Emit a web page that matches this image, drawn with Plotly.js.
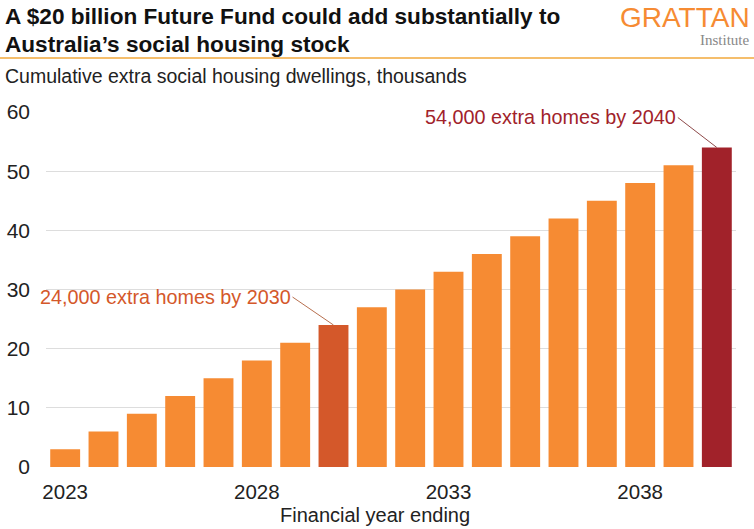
<!DOCTYPE html>
<html>
<head>
<meta charset="utf-8">
<script src="https://cdn.plot.ly/plotly-3.0.1.min.js"></script>
<style>html,body{margin:0;padding:0;background:#fff;}#chart{width:754px;height:529px;}</style>
</head>
<body>
<div id="chart"></div>
<script>
const years = [2023,2024,2025,2026,2027,2028,2029,2030,2031,2032,2033,2034,2035,2036,2037,2038,2039,2040];
const dwellings = [3,6,9,12,15,18,21,24,27,30,33,36,39,42,45,48,51,54];
const yTicks = [0,10,20,30,40,50,60];
const xTicks = [2023,2028,2033,2038];
const highlight2030 = 2030;
const highlight2040 = 2040;

const ORANGE = '#F68B33', DARKORANGE = '#D4582A', RED = '#A1222A';
const colors = years.map(y => y === highlight2030 ? DARKORANGE : (y === highlight2040 ? RED : ORANGE));

const L = 46, R = 18, T = 112, B = 62, W = 754, H = 529;
const pw = W - L - R, ph = H - T - B;
const px = x => (x - L) / pw;
const py = y => (H - B - y) / ph;
const FONT = 'Liberation Sans, Arial, sans-serif';

const trace = {
  type: 'bar', x: years, y: dwellings,
  marker: {color: colors, line: {width: 0}},
  hoverinfo: 'skip'
};

const layout = {
  width: W, height: H,
  margin: {l: L, r: R, t: T, b: B, pad: 0},
  paper_bgcolor: '#fff', plot_bgcolor: '#fff',
  font: {family: FONT, color: '#222', size: 20},
  bargap: 0.22,
  showlegend: false,
  xaxis: {
    range: [years[0] - 0.5, years[years.length - 1] + 0.5],
    tickvals: xTicks, ticktext: xTicks.map(String),
    showgrid: false, zeroline: false, showline: false, ticks: '',
    ticklabelstandoff: 10,
    tickfont: {size: 20.5, color: '#222'}
  },
  yaxis: {
    range: [0, 60],
    tickvals: yTicks,
    showgrid: true, gridcolor: '#DDDDDD', gridwidth: 1,
    zeroline: false, showline: false, ticks: '',
    ticklabelstandoff: 15,
    tickfont: {size: 21, color: '#222'}
  },
  shapes: [
    {type: 'line', xref: 'paper', yref: 'paper', x0: px(0), x1: px(754), y0: py(58), y1: py(58),
     line: {color: '#F2A93B', width: 1.5}}
  ],
  annotations: [
    {xref: 'paper', yref: 'paper', x: px(3), y: py(17), xanchor: 'left', yanchor: 'middle', align: 'left',
     showarrow: false, text: '<b>A $20 billion Future Fund could add substantially to</b>',
     font: {family: FONT, size: 22.6, color: '#111'}},
    {xref: 'paper', yref: 'paper', x: px(3), y: py(44), xanchor: 'left', yanchor: 'middle', align: 'left',
     showarrow: false, text: '<b>Australia’s social housing stock</b>',
     font: {family: FONT, size: 22.6, color: '#111'}},
    {xref: 'paper', yref: 'paper', x: px(3), y: py(76), xanchor: 'left', yanchor: 'middle',
     showarrow: false, text: 'Cumulative extra social housing dwellings, thousands',
     font: {family: FONT, size: 19.5, color: '#222'}},
    {xref: 'paper', yref: 'paper', x: px(752), y: py(18), xanchor: 'right', yanchor: 'middle',
     showarrow: false, text: 'GRATTAN',
     font: {family: FONT, size: 28, color: '#F68B33', weight: 300}},
    {xref: 'paper', yref: 'paper', x: px(752), y: py(40), xanchor: 'right', yanchor: 'middle',
     showarrow: false, text: 'Institute',
     font: {family: 'Liberation Serif, serif', size: 15, color: '#888'}},
    {xref: 'paper', yref: 'paper', x: px(375), y: py(515), xanchor: 'center', yanchor: 'middle',
     showarrow: false, text: 'Financial year ending',
     font: {family: FONT, size: 20, color: '#222'}},
    {xref: 'x', yref: 'y', x: highlight2030, y: dwellings[years.indexOf(highlight2030)],
     ax: -41, ay: -28, axref: 'pixel', ayref: 'pixel', xanchor: 'right', yanchor: 'middle',
     showarrow: true, arrowhead: 0, arrowwidth: 1, arrowcolor: '#B8704F', standoff: 0,
     text: '24,000 extra homes by 2030', font: {family: FONT, size: 19.8, color: DARKORANGE}},
    {xref: 'x', yref: 'y', x: highlight2040, y: dwellings[years.indexOf(highlight2040)],
     ax: -39, ay: -30, axref: 'pixel', ayref: 'pixel', xanchor: 'right', yanchor: 'middle',
     showarrow: true, arrowhead: 0, arrowwidth: 1, arrowcolor: '#8E4A4A', standoff: 0,
     text: '54,000 extra homes by 2040', font: {family: FONT, size: 19.8, color: RED}}
  ]
};

Plotly.newPlot('chart', [trace], layout, {displayModeBar: false, staticPlot: true});
</script>
</body>
</html>
